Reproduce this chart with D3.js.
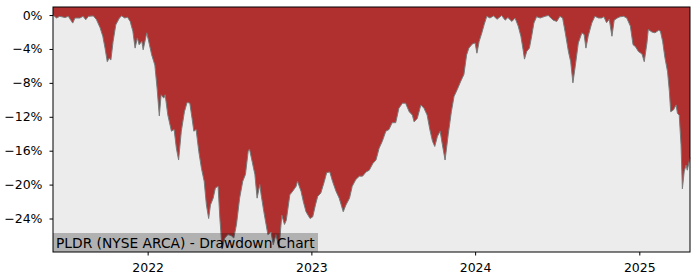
<!DOCTYPE html>
<html>
<head>
<meta charset="utf-8">
<script src="https://d3js.org/d3.v7.min.js"></script>
<style>
    body { margin: 0; background: #fff; }
    .axis path, .axis line { stroke: #000; }
</style>
</head>
<body>
<div id="vis"></div>
<script>
/* Drawdown chart for PLDR */

// Dates (roughly weekly samples)
var dates = [
    '2021-06-04','2021-06-12','2021-06-19','2021-07-01','2021-07-08','2021-07-18','2021-07-23','2021-08-03',
    '2021-08-10','2021-08-16','2021-08-22','2021-09-02','2021-09-09','2021-09-17','2021-09-23','2021-09-28',
    '2021-10-03','2021-10-07','2021-10-11','2021-10-16','2021-10-22','2021-10-30','2021-11-04','2021-11-11',
    '2021-11-17','2021-11-23','2021-11-29','2021-12-04','2021-12-09','2021-12-13','2021-12-19','2021-12-22',
    '2021-12-30','2022-01-05','2022-01-10','2022-01-17','2022-01-22','2022-01-27','2022-01-31','2022-02-06',
    '2022-02-09','2022-02-15','2022-02-23','2022-03-01','2022-03-06','2022-03-11','2022-03-17','2022-03-24',
    '2022-03-30','2022-04-05','2022-04-10','2022-04-14','2022-04-19','2022-04-25','2022-05-01','2022-05-07',
    '2022-05-12','2022-05-17','2022-05-21','2022-05-27','2022-06-01','2022-06-07','2022-06-11','2022-06-16',
    '2022-06-22','2022-06-29','2022-07-06','2022-07-12','2022-07-18','2022-07-25','2022-08-01','2022-08-07',
    '2022-08-13','2022-08-16','2022-08-22','2022-08-28','2022-09-02','2022-09-08','2022-09-11','2022-09-17',
    '2022-09-22','2022-09-26','2022-10-03','2022-10-08','2022-10-14','2022-10-21','2022-10-27','2022-11-02',
    '2022-11-06','2022-11-14','2022-11-20','2022-11-28','2022-12-01','2022-12-09','2022-12-14','2022-12-20',
    '2022-12-29','2023-01-04','2023-01-10','2023-01-15','2023-01-22','2023-01-30','2023-02-04','2023-02-11',
    '2023-02-17','2023-02-25','2023-03-04','2023-03-13','2023-03-19','2023-03-27','2023-04-02','2023-04-10',
    '2023-04-18','2023-04-25','2023-05-03','2023-05-10','2023-05-18','2023-05-25','2023-06-01','2023-06-08',
    '2023-06-16','2023-06-23','2023-06-30','2023-07-08','2023-07-15','2023-07-23','2023-07-30','2023-08-07',
    '2023-08-14','2023-08-18','2023-08-25','2023-09-02','2023-09-09','2023-09-16','2023-09-22','2023-09-28',
    '2023-10-03','2023-10-09','2023-10-15','2023-10-20','2023-10-26','2023-11-02','2023-11-09','2023-11-15',
    '2023-11-22','2023-11-30','2023-12-07','2023-12-13','2023-12-18','2023-12-26','2024-01-01','2024-01-05',
    '2024-01-10','2024-01-16','2024-01-21','2024-01-27','2024-02-03','2024-02-11','2024-02-19','2024-02-29',
    '2024-03-08','2024-03-14','2024-03-23','2024-03-30','2024-04-06','2024-04-12','2024-04-17','2024-04-20',
    '2024-04-25','2024-05-01','2024-05-06','2024-05-11','2024-05-17','2024-05-25','2024-06-05','2024-06-12',
    '2024-06-23','2024-07-01','2024-07-08','2024-07-14','2024-07-20','2024-07-27','2024-08-01','2024-08-06',
    '2024-08-11','2024-08-18','2024-08-26','2024-08-31','2024-09-04','2024-09-09','2024-09-17','2024-09-24',
    '2024-10-02','2024-10-09','2024-10-14','2024-10-20','2024-10-26','2024-11-01','2024-11-06','2024-11-13',
    '2024-11-19','2024-11-27','2024-12-04','2024-12-12','2024-12-18','2024-12-23','2024-12-30','2025-01-07',
    '2025-01-12','2025-01-18','2025-01-21','2025-01-29','2025-02-05','2025-02-13','2025-02-17','2025-02-22',
    '2025-02-27','2025-03-05','2025-03-09','2025-03-12','2025-03-18','2025-03-24','2025-03-27','2025-03-31',
    '2025-04-04','2025-04-07','2025-04-11','2025-04-15','2025-04-18','2025-04-24'
];

// Drawdown in percent, one per date
var drawdown = [
    0, -0.35, -0.15, -0.3, -0.15, -0.95, -0.35, -0.35,
    -0.15, -0.55, -0.15, -0.1, -0.55, -1.5, -2.5, -3.9,
    -5.5, -5.1, -5.3, -3.1, -1.15, -0.35, -0.1, -0.35,
    -0.25, -0.75, -1.9, -3.9, -2.7, -3.5, -3.1, -4.1,
    -2.1, -3.5, -4.7, -5.9, -8.6, -11.9, -9.4, -9.8,
    -9.4, -11.8, -13.7, -13.5, -15.7, -17.1, -13.7, -11.4,
    -10.3, -10.4, -12.2, -13.7, -13.5, -16.1, -18.1, -19.6,
    -22.4, -24.0, -22.4, -21.6, -20.4, -20.2, -24.0, -27.6,
    -26.3, -25.9, -26.0, -26.3, -24.7, -21.6, -19.6, -18.8,
    -16.1, -15.8, -17.3, -18.8, -21.6, -20.0, -21.2, -23.2,
    -24.7, -25.9, -25.6, -27.1, -25.9, -27.5, -23.6, -24.7,
    -24.2, -21.2, -20.8, -20.2, -19.6, -20.8, -22.0, -23.2,
    -24.0, -23.8, -22.4, -21.4, -21.0, -19.6, -18.6, -18.5,
    -19.6, -20.8, -21.6, -23.2, -22.4, -21.6, -20.2, -19.4,
    -19.0, -19.0, -18.5, -18.3, -17.5, -17.1, -15.7, -14.9,
    -13.7, -13.5, -12.7, -12.7, -11.0, -10.4, -10.4, -11.4,
    -11.8, -12.6, -12.2, -10.6, -11.0, -11.8, -13.5, -14.9,
    -15.5, -14.3, -13.7, -15.3, -17.1, -14.1, -11.4, -9.6,
    -8.8, -7.8, -7.0, -4.7, -3.9, -3.4, -3.3, -4.5,
    -3.1, -2.1, -1.15, -0.15, -0.35, -0.1, -0.5, -0.05,
    -0.6, -0.3, -0.75, -0.35, -1.3, -2.5, -4.1, -5.2,
    -4.3, -3.9, -2.5, -0.95, -0.2, -0.35, -0.15, -0.05,
    -0.6, -0.75, -0.15, -0.35, -2.1, -4.3, -5.5, -8.0,
    -6.1, -3.3, -2.1, -2.3, -3.9, -2.5, -0.95, -0.15,
    -0.35, -0.35, -0.2, -0.9, -0.5, -2.5, -0.6, -0.35,
    -0.2, -0.15, -0.35, -1.3, -3.5, -3.7, -4.3, -4.6,
    -5.5, -3.3, -1.7, -2.0, -2.1, -1.8, -1.9, -3.1,
    -5.0, -6.7, -9.0, -11.4, -11.2, -10.6, -11.6, -11.8,
    -15.3, -20.5, -18.5, -17.7, -18.3, -16.8
];

// Tick values
var yTicks = [0, -4, -8, -12, -16, -20, -24];
var xTicks = ['2022-01-01', '2023-01-01', '2024-01-01', '2025-01-01'];

var title = 'PLDR (NYSE ARCA) - Drawdown Chart';

var parse = d3.timeParse('%Y-%m-%d');
var data = dates.map(function(d, i) {
    return { date: parse(d), value: drawdown[i] };
});

var width = 700;
var height = 280;
var margin = { left: 53, top: 7, right: 10, bottom: 28 };
var drawWidth = width - margin.left - margin.right;
var drawHeight = height - margin.top - margin.bottom;

var svg = d3.select('#vis')
    .append('svg')
    .attr('width', width)
    .attr('height', height);

var g = svg.append('g')
    .attr('transform', 'translate(' + margin.left + ',' + margin.top + ')');

var xScale = d3.scaleTime()
    .domain(d3.extent(data, function(d) { return d.date; }))
    .range([0, drawWidth]);

var yScale = d3.scaleLinear()
    .domain([-27.95, 0.95])
    .range([drawHeight, 0]);

// Axes background
g.append('rect')
    .attr('width', drawWidth)
    .attr('height', drawHeight)
    .attr('fill', '#ececec');

// Red area from the top of the plot down to the drawdown curve
var area = d3.area()
    .x(function(d) { return xScale(d.date); })
    .y0(0)
    .y1(function(d) { return yScale(d.value); });

g.append('path')
    .datum(data)
    .attr('d', area)
    .attr('fill', '#b03030');

var line = d3.line()
    .x(function(d) { return xScale(d.date); })
    .y(function(d) { return yScale(d.value); });

g.append('path')
    .datum(data)
    .attr('d', line)
    .attr('fill', 'none')
    .attr('stroke', '#7a7a7a')
    .attr('stroke-width', 1);

// Title box in the lower left corner
var label = g.append('g');
label.append('rect')
    .attr('x', 0)
    .attr('y', drawHeight - 19)
    .attr('width', 265)
    .attr('height', 19)
    .attr('fill', '#000')
    .attr('fill-opacity', 0.25);
label.append('text')
    .attr('x', 3)
    .attr('y', drawHeight - 4.5)
    .attr('font-family', 'DejaVu Sans')
    .attr('font-size', 13.8)
    .attr('fill', '#000')
    .text(title);

// Axes
var yAxis = d3.axisLeft(yScale)
    .tickValues(yTicks)
    .tickSize(3.5)
    .tickSizeOuter(0)
    .tickPadding(7)
    .tickFormat(function(d) { return (d < 0 ? '\u2212' + Math.abs(d) : d) + '%'; });

var xAxis = d3.axisBottom(xScale)
    .tickValues(xTicks.map(parse))
    .tickSize(3.5)
    .tickSizeOuter(0)
    .tickPadding(7.5)
    .tickFormat(d3.timeFormat('%Y'));

var yAxisG = g.append('g')
    .attr('class', 'axis')
    .call(yAxis);
yAxisG.select('.domain').remove();
yAxisG.attr('font-family', 'DejaVu Sans').attr('font-size', 12.5);
yAxisG.selectAll('text').attr('fill', '#000');

var xAxisG = g.append('g')
    .attr('class', 'axis')
    .attr('transform', 'translate(0,' + drawHeight + ')')
    .call(xAxis);
xAxisG.select('.domain').remove();
xAxisG.attr('font-family', 'DejaVu Sans').attr('font-size', 12.5);
xAxisG.selectAll('text').attr('fill', '#000');

// Frame
g.append('rect')
    .attr('width', drawWidth)
    .attr('height', drawHeight)
    .attr('fill', 'none')
    .attr('stroke', '#000')
    .attr('stroke-width', 1);
</script>
</body>
</html>
